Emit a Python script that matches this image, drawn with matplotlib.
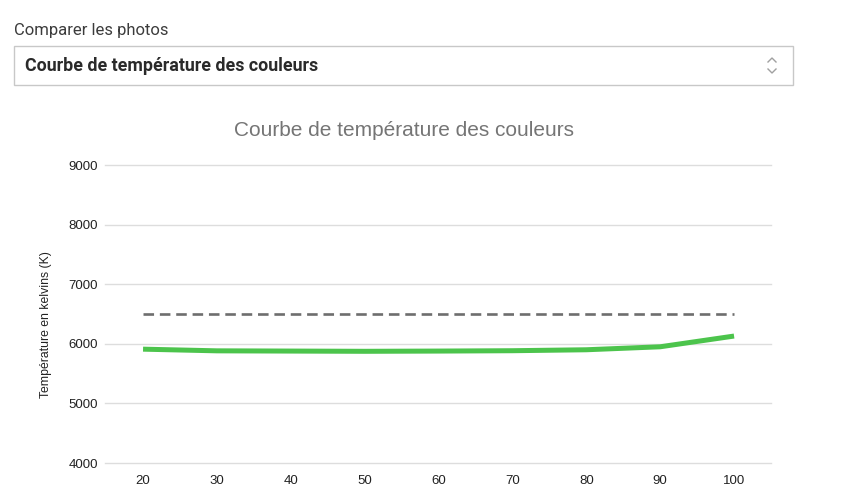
import matplotlib

matplotlib.use("Agg")

import matplotlib.pyplot as plt
from matplotlib.patches import Rectangle

# data
intensity = [20, 30, 40, 50, 60, 70, 80, 90, 100]
temperature = [5910, 5882, 5878, 5874, 5878, 5884, 5900, 5950, 6130]
reference_temp = [6500] * len(intensity)
y_ticks = [4000, 5000, 6000, 7000, 8000, 9000]
x_ticks = [20, 30, 40, 50, 60, 70, 80, 90, 100]

W, H = 841, 499
fig = plt.figure(figsize=(W / 100, H / 100), dpi=100)

# page overlay in pixel coordinates (dropdown header)
ui = fig.add_axes([0, 0, 1, 1])
ui.set_xlim(0, W)
ui.set_ylim(H, 0)
ui.axis("off")
ui.text(14, 30, "Comparer les photos", fontsize=12, family="Roboto",
        color="#3c3c3c", va="center", ha="left")
ui.add_patch(Rectangle((14, 46), 779, 39, facecolor="white",
                       edgecolor="#c8c8c8", linewidth=1))
ui.text(25, 66, "Courbe de température des couleurs", fontsize=12.8,
        family="Roboto", fontweight="semibold", color="#2a2a2a",
        va="center", ha="left")
ui.plot([768, 772, 776], [62, 58, 62], color="#a0a0a0", lw=1)
ui.plot([768, 772, 776], [69, 73, 69], color="#a0a0a0", lw=1)
ui.text(404, 131, "Courbe de température des couleurs", fontsize=15,
        family="Liberation Sans", color="#757575", ha="center", va="center")

ax = fig.add_axes([105 / W, 1 - 463 / H, 666 / W, 298 / H])
ax.set_xlim(14.85, 105.0)
ax.set_ylim(4000, 9000)
ax.set_yticks(y_ticks)
ax.set_xticks(x_ticks)
ax.grid(axis="y", color="#dddddd", linewidth=1)
for g in ax.get_ygridlines():
    g.set_clip_on(False)
ax.set_axisbelow(True)
for s in ax.spines.values():
    s.set_visible(False)
ax.tick_params(length=0, labelsize=9.5)
ax.tick_params(axis="y", pad=5)
ax.tick_params(axis="x", pad=9)
for lab in ax.get_xticklabels() + ax.get_yticklabels():
    lab.set_family("Liberation Sans")
    lab.set_color("#222222")

ax.plot(intensity, reference_temp, color="#6e6e6e", linewidth=1.9,
        dashes=(4, 2.2))
ax.plot(intensity, temperature, color="#4cc44c", linewidth=3.6,
        solid_capstyle="butt", solid_joinstyle="round")

ax.set_ylabel("Température en kelvins (K)", fontsize=8.8,
              family="Liberation Sans", color="#222222")
ax.yaxis.set_label_coords((52 - 105) / 666, (463 - 325) / 298)

fig.savefig("out.png", dpi=100)
plt.close(fig)
